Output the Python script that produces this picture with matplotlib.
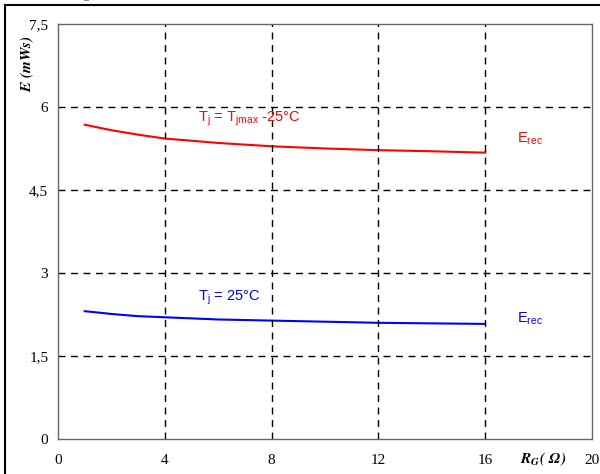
import numpy as np
import matplotlib
matplotlib.use('Agg')
import matplotlib.pyplot as plt
from matplotlib.lines import Line2D

# recovery energy vs gate resistance
rg = [1, 2, 3, 4, 6, 8, 10, 12, 14, 16]
erec_hot = [5.68, 5.58, 5.50, 5.43, 5.35, 5.29, 5.25, 5.22, 5.20, 5.175]
erec_25 = [2.31, 2.26, 2.22, 2.20, 2.16, 2.14, 2.12, 2.10, 2.09, 2.08]

xticks = [0, 4, 8, 12, 16, 20]
xticklabels = ['0', '4', '8', '12', '16', '20']
yticks = [0, 1.5, 3, 4.5, 6, 7.5]
yticklabels = ['0', '1,5', '3', '4,5', '6', '7,5']

serif = 'Liberation Serif'
sans = 'Liberation Sans'

fig = plt.figure(figsize=(6, 4.74), dpi=100)
ax = fig.add_axes([0.0967, 0.0738, 0.89, 0.8756])

ax.plot(rg, erec_hot, color='#ff0000', lw=1.5)
ax.plot(rg, erec_25, color='#0000ff', lw=1.5)

ax.set_xlim(0, 20)
ax.set_ylim(0, 7.5)
ax.set_xticks(xticks)
ax.set_xticklabels(xticklabels, family=serif, fontsize=11)
ax.set_yticks(yticks)
ax.set_yticklabels(yticklabels, family=serif, fontsize=11)
ax.tick_params(axis='x', length=0, pad=11)
ax.tick_params(axis='y', length=0, pad=7)
for x in [4, 8, 12, 16]:
    ax.axvline(x, color='black', lw=1, ls=(0, (5, 4)))
for y in [1.5, 3, 4.5, 6]:
    ax.axhline(y, color='black', lw=1, ls=(0, (5, 4)))
for s in ax.spines.values():
    s.set_color('#666666')
    s.set_linewidth(1)

ax.text(5.25, 5.78, r'T$_\mathregular{j}$ = T$_\mathregular{jmax}$ -25°C', color='#ff0000',
        family=sans, fontsize=10.5, va='center')
ax.text(17.2, 5.42, r'E$_\mathregular{rec}$', color='#ff0000', family=sans, fontsize=10.5, va='center')
ax.text(5.25, 2.55, r'T$_\mathregular{j}$ = 25°C', color='#0000ff', family=sans, fontsize=10.5, va='center')
ax.text(17.2, 2.17, r'E$_\mathregular{rec}$', color='#0000ff', family=sans, fontsize=10.5, va='center')

fig.text(0.045, 0.866, r'$\mathbfit{E}$ $\mathbfit{(mWs)}$', rotation=90, ha='center', va='center',
         family=serif, fontsize=11, math_fontfamily='stix')
fig.text(0.905, 0.03, r'$\mathbfit{R}_\mathbfit{G}\mathbfit{(\ \Omega)}$', ha='center', va='center',
         family=serif, fontsize=11, math_fontfamily='stix')

# title line, mostly above the top edge
fig.text(0.033, 1.012, r'E$_\mathregular{rec}$ = f (R$_\mathregular{g}$)', family=serif,
         fontsize=11, va='center')

# outer frame
fig.add_artist(Line2D([0.009, 1.0], [0.9895, 0.9895], color='black', lw=1.5, transform=fig.transFigure))
fig.add_artist(Line2D([0.009, 0.009], [0.0, 0.9895], color='black', lw=1.5, transform=fig.transFigure))

fig.savefig('out.png', dpi=100)
